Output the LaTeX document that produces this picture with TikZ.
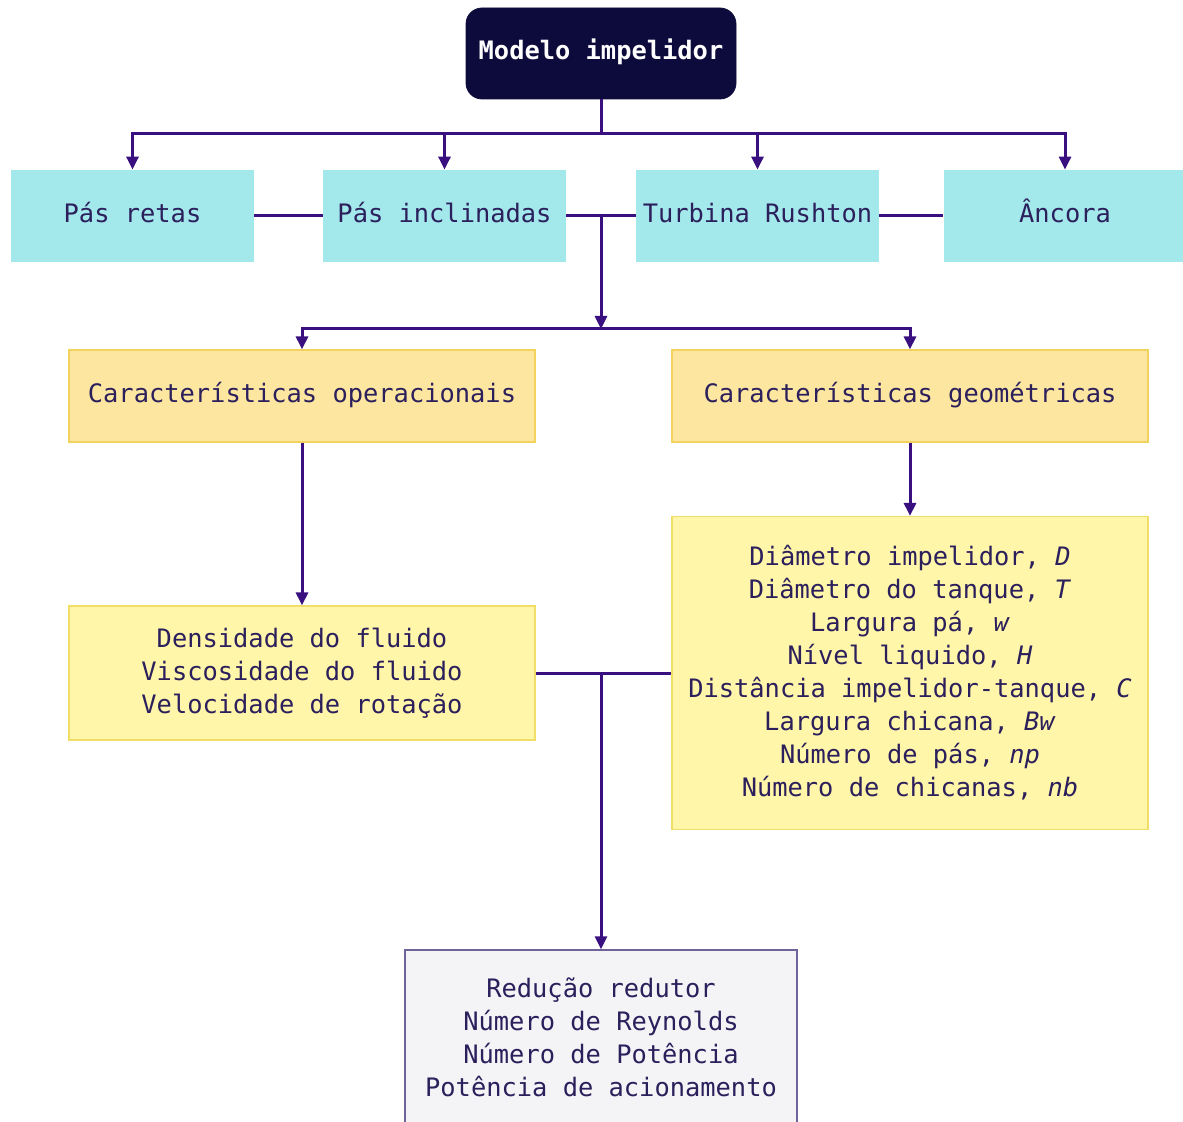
\documentclass[tikz,border=0pt]{standalone}
\usepackage{fontspec}
\setmonofont{DejaVu Sans Mono}
\usetikzlibrary{arrows.meta,positioning,calc}
\definecolor{topo}{HTML}{0D0B3C}
\definecolor{linha}{HTML}{3A1080}
\definecolor{txt}{HTML}{2B1F5C}
\definecolor{ciano}{HTML}{A3E8EB}
\definecolor{laranja}{HTML}{FCE6A0}
\definecolor{bordal}{HTML}{F3D25E}
\definecolor{amarelo}{HTML}{FFF6A9}
\definecolor{bordaa}{HTML}{F1DE66}
\definecolor{cinza}{HTML}{F4F4F6}
\definecolor{bordac}{HTML}{6F6399}
\tikzset{
  box/.style    = { rectangle, align=center, inner sep=0pt, text=txt,
    font=\ttfamily\fontsize{12.7}{16.5}\selectfont },
  umalinha/.style = { text height=9pt, text depth=2.5pt },
  mod/.style    = { box, umalinha, fill=topo, draw=topo, rounded corners=8pt, text=white,
    font=\ttfamily\bfseries\fontsize{12.7}{16.5}\selectfont,
    minimum width=135pt, minimum height=45.5pt },
  tipo/.style   = { box, umalinha, fill=ciano, minimum width=121.5pt, minimum height=46pt },
  carac/.style  = { box, umalinha, fill=laranja, draw=bordal, line width=0.6pt, minimum height=46pt },
  param/.style  = { box, fill=amarelo, draw=bordaa, line width=0.6pt },
  saida/.style  = { box, fill=cinza, draw=bordac, line width=0.7pt },
  lig/.style    = { draw=linha, line width=1.5pt },
  seta/.style   = { lig, -{Triangle[length=6.5pt,width=6pt]} }
}
\begin{document}
\begin{tikzpicture}[x=0.5pt,y=-0.5pt]
  \useasboundingbox (0,0) rectangle (1183,1122);
  \clip (0,0) rectangle (1183,1122);
  % modelo
  \node[mod] (m) at (601,53.5) {Modelo impelidor};
  % tipos de impelidor
  \node[tipo] (t1) at (132.5,216) {Pás retas};
  \node[tipo] (t2) at (444.5,216) {Pás inclinadas};
  \node[tipo] (t3) at (757.5,216) {Turbina Rushton};
  \node[tipo] (t4) at (1065,216) {Âncora};
  % caracteristicas
  \node[carac, minimum width=233pt] (co) at (302,396) {Características operacionais};
  \node[carac, minimum width=238pt] (cg) at (910,396) {Características geométricas};
  \node[param, minimum width=233pt, minimum height=67pt] (op) at (302,673)
    {Densidade do fluido\\Viscosidade do fluido\\Velocidade de rotação};
  \node[param, minimum width=238pt, minimum height=156.5pt] (ge) at (910,673)
    {Diâmetro impelidor, \textit{D}\\Diâmetro do tanque, \textit{T}\\
     Largura pá, \textit{w}\\Nível liquido, \textit{H}\\
     Distância impelidor-tanque, \textit{C}\\Largura chicana, \textit{Bw}\\
     Número de pás, \textit{np}\\Número de chicanas, \textit{nb}};
  % resultados
  \node[saida, minimum width=196pt, minimum height=87.5pt] (re) at (601,1037.5)
    {Redução redutor\\Número de Reynolds\\Número de Potência\\Potência de acionamento};
  % ligacoes
  \coordinate (b1) at (601,134);
  \foreach \t in {t1,t2,t3,t4}
    \draw[seta] (m.south) -- (b1) -| (\t.north);
  \draw[lig] (t1) -- (t2) (t2) -- (t3) (t3) -- (t4);
  \coordinate (c1) at ($(t2.east)!0.5!(t3.west)$);
  \coordinate (b2) at ($(c1)+(0,113)$);
  \draw[seta] (c1) -- (b2);
  \draw[seta] (b2) -| (co.north);
  \draw[seta] (b2) -| (cg.north);
  \draw[seta] (co) -- (op);
  \draw[seta] (cg) -- (ge);
  \draw[lig] (op) -- (ge);
  \draw[seta] (re.north |- op.east) -- (re.north);
\end{tikzpicture}
\end{document}
